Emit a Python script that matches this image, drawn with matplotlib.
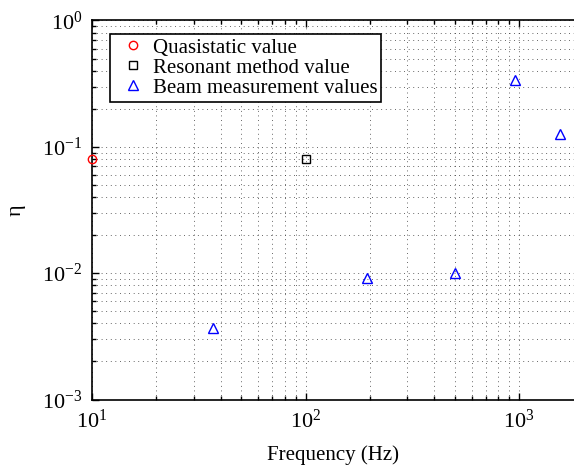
import matplotlib
matplotlib.use("Agg")
import matplotlib.pyplot as plt
from matplotlib.ticker import LogLocator, LogFormatterMathtext, NullFormatter

plt.rcParams['font.family'] = ['Liberation Serif', 'DejaVu Serif']
plt.rcParams['mathtext.fontset'] = 'stix'

# Loss factor data
quasi_freq = [10]
quasi_eta = [0.08]
reson_freq = [100]
reson_eta = [0.08]
beam_freq = [37, 195, 500, 955, 1560]
beam_eta = [0.0037, 0.0092, 0.0100, 0.34, 0.127]

x_range = [10, 1810]
y_range = [1e-3, 1]

fig = plt.figure(figsize=(5.74, 4.70), dpi=100)
ax = fig.add_axes([0.1603, 0.150, 0.8397, 0.8064])
ax.set_xscale('log')
ax.set_yscale('log')

ax.plot(quasi_freq, quasi_eta, 'o', ms=6, mfc='none', mec='red', mew=1.0,
        label='Quasistatic value', clip_on=False, zorder=5)
ax.plot(reson_freq, reson_eta, 's', ms=5.5, mfc='none', mec='black', mew=1.0,
        label='Resonant method value', clip_on=False, zorder=5)
ax.plot(beam_freq, beam_eta, '^', ms=7, mfc='none', mec='blue', mew=1.0,
        label='Beam measurement values', clip_on=False, zorder=5)

ax.set_xlim(x_range)
ax.set_ylim(y_range)

for axis in (ax.xaxis, ax.yaxis):
    axis.set_major_locator(LogLocator(base=10, numticks=10))
    axis.set_minor_locator(LogLocator(base=10, subs=range(2, 10), numticks=20))
    axis.set_major_formatter(LogFormatterMathtext())
    axis.set_minor_formatter(NullFormatter())

ax.grid(True, which='both', color='#333333', linestyle=(0, (1, 4.5)), linewidth=0.6)
ax.tick_params(which='both', direction='in', top=True, right=False,
               labelsize=16, width=1.0)
ax.tick_params(which='major', length=5, pad=7)
ax.tick_params(which='minor', length=3)

ax.spines['right'].set_visible(False)
for s in ('left', 'bottom', 'top'):
    ax.spines[s].set_linewidth(1.2)

ax.set_xlabel('Frequency (Hz)', fontsize=15, labelpad=9)
ax.set_ylabel('η', fontsize=16, labelpad=12)

leg = ax.legend(loc='upper left', bbox_to_anchor=(0.037, 0.965), fontsize=15,
                frameon=True, fancybox=False, framealpha=1, edgecolor='black',
                borderpad=0.2, labelspacing=0.02, handletextpad=0.05,
                handlelength=1.8, borderaxespad=0)
leg.get_frame().set_linewidth(1.2)

fig.savefig('out.png', dpi=100)
